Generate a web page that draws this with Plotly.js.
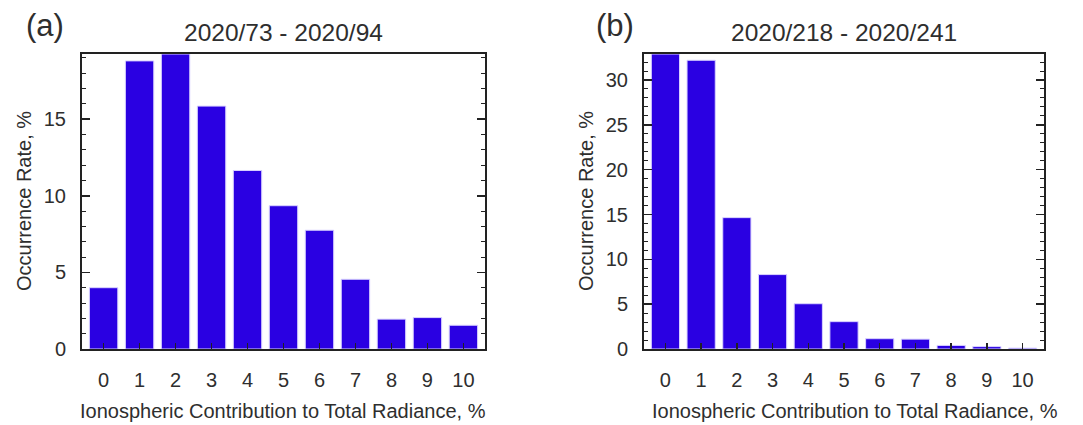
<!DOCTYPE html>
<html>
<head>
<meta charset="utf-8">
<script src="https://cdn.plot.ly/plotly-3.0.1.min.js"></script>
<style>html,body{margin:0;padding:0;background:#fff;}#chart{width:1083px;height:425px;}</style>
</head>
<body>
<div id="chart"></div>
<script>
const categories = [0, 1, 2, 3, 4, 5, 6, 7, 8, 9, 10];
const tickLabels = ["0", "1", "2", "3", "4", "5", "6", "7", "8", "9", "10"];
const valuesA = [4.0, 18.8, 19.25, 15.85, 11.65, 9.35, 7.75, 4.55, 1.95, 2.05, 1.55];
const valuesB = [32.9, 32.2, 14.65, 8.3, 5.05, 3.05, 1.15, 1.1, 0.4, 0.27, 0.1];
const titleA = "2020/73 - 2020/94";
const titleB = "2020/218 - 2020/241";
const panelA = "(a)";
const panelB = "(b)";
const xTitle = "Ionospheric Contribution to Total Radiance, %";
const yTitle = "Occurrence Rate, %";

const W = 1083, H = 425;
const FONT = "Liberation Sans, Arial, sans-serif";
const TXT = "#2e2e2e";
const BAR = "#2a00e2";

function bar(y, xa, ya) {
  return {
    type: "bar", x: categories, y: y, xaxis: xa, yaxis: ya,
    width: 0.79,
    marker: { color: BAR, line: { color: "#d9d2ff", width: 1 } },
    hoverinfo: "x+y", showlegend: false
  };
}

function xax(domain) {
  return {
    domain: domain, range: [-0.6, 10.6], tickmode: "array",
    tickvals: categories, ticktext: tickLabels,
    ticks: "inside", ticklen: 6, tickwidth: 1.5, tickcolor: "#222",
    showline: true, linecolor: "#222", linewidth: 2, mirror: true,
    showgrid: false, zeroline: false, fixedrange: true,
    tickfont: { family: FONT, size: 20, color: TXT },
    ticklabelstandoff: 12
  };
}
function yax(domain, max, anchor) {
  return {
    domain: domain, range: [0, max], anchor: anchor,
    tickmode: "linear", tick0: 0, dtick: 5,
    ticks: "inside", ticklen: 8, tickwidth: 1.5, tickcolor: "#222",
    minor: { dtick: 1, ticks: "inside", ticklen: 4, tickwidth: 1, tickcolor: "#222", showgrid: false },
    showline: true, linecolor: "#222", linewidth: 2, mirror: "ticks",
    showgrid: false, zeroline: false, fixedrange: true,
    tickfont: { family: FONT, size: 20, color: TXT },
    ticklabelstandoff: 10
  };
}

const yDom = [1 - 349 / H, 1 - 54 / H];
const xDomA = [82 / W, 485 / W];
const xDomB = [644 / W, 1044 / W];

const xa = xax(xDomA); xa.anchor = "y";
const xb = xax(xDomB); xb.anchor = "y2";

function ann(text, x, y, size, angle) {
  return {
    text: text, xref: "paper", yref: "paper", x: x / W, y: 1 - y / H,
    xanchor: "center", yanchor: "middle", showarrow: false,
    textangle: angle || 0, font: { family: FONT, size: size, color: TXT }
  };
}

const layout = {
  width: W, height: H,
  margin: { l: 0, r: 0, t: 0, b: 0 },
  paper_bgcolor: "#fff", plot_bgcolor: "#fff",
  xaxis: xa,
  yaxis: yax(yDom, 19.25, "x"),
  xaxis2: xb,
  yaxis2: yax(yDom, 32.9, "x2"),
  annotations: [
    ann(titleA, 283, 33, 24.5),
    ann(titleB, 844, 33, 24.5),
    ann(panelA, 45, 25, 31),
    ann(panelB, 615, 25, 31),
    ann(xTitle, 283, 411, 20),
    ann(xTitle, 855, 411, 20),
    ann(yTitle, 24, 201, 20, -90),
    ann(yTitle, 586, 201, 20, -90)
  ]
};

Plotly.newPlot("chart", [bar(valuesA, "x", "y"), bar(valuesB, "x2", "y2")], layout, { displayModeBar: false, staticPlot: true });
</script>
</body>
</html>
